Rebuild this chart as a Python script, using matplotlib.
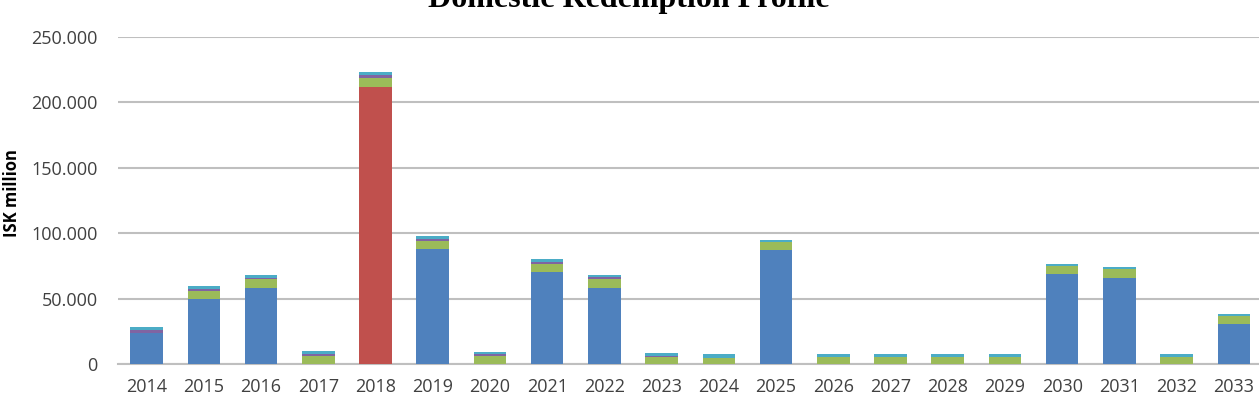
import numpy as np
import matplotlib.pyplot as plt
from matplotlib.ticker import FuncFormatter


# Data (ISK million)
years = [str(y) for y in range(2014, 2034)]
blue = [24000, 50000, 58000, 0, 0, 88000, 0, 70000, 58000, 0,
        0, 87000, 0, 0, 0, 0, 68500, 66000, 0, 30500]
red = [0, 0, 0, 0, 212000, 0, 0, 0, 0, 0,
       0, 0, 0, 0, 0, 0, 0, 0, 0, 0]
green = [0, 6000, 6700, 6000, 7000, 6000, 6000, 6600, 6700, 5000,
         4800, 6400, 5500, 5500, 5500, 5500, 6300, 6400, 5500, 6300]
purple = [2000, 1600, 1000, 1500, 1800, 1500, 1500, 1500, 1600, 1000,
          0, 0, 0, 0, 0, 0, 0, 0, 0, 0]
cyan = [2000, 2400, 2600, 2300, 2200, 2500, 2000, 2000, 1500, 2500,
        2700, 1500, 1900, 1900, 1900, 1900, 1800, 1800, 1900, 1600]

series = [blue, red, green, purple, cyan]
colors = ['#4F81BD', '#C0504D', '#9BBB59', '#8064A2', '#4BACC6']

fig = plt.figure(figsize=(12.59, 3.93), dpi=100)
ax = fig.add_axes([118/1259, 1-364/393, 1-118/1259, (364-37)/393])

x = np.arange(len(years))
bottom = np.zeros(len(years))
for vals, c in zip(series, colors):
    ax.bar(x, vals, 0.57, bottom=bottom, color=c, zorder=3)
    bottom += np.array(vals)

ax.set_xlim(-0.5, 19.44)
ax.set_ylim(0, 250000)
ax.set_yticks(np.arange(0, 250001, 50000))
ax.yaxis.set_major_formatter(FuncFormatter(lambda v, p: '0' if v == 0 else f'{int(v):,}'.replace(',', '.')))
ax.set_xticks(x)
ax.set_xticklabels(years)

ax.grid(axis='y', color='#BFBFBF', linewidth=1.5, zorder=0)
for s in ['top', 'right', 'left']:
    ax.spines[s].set_visible(False)
ax.spines['bottom'].set_color('#BFBFBF')
ax.spines['bottom'].set_linewidth(1.5)
ax.tick_params(axis='both', length=0, labelsize=13, labelcolor='#404040')
ax.tick_params(axis='y', pad=14.5)
ax.tick_params(axis='x', pad=10)
for lab in ax.get_xticklabels() + ax.get_yticklabels():
    lab.set_family('Open Sans')

fig.text(12/1259, 1-193/393, 'ISK million', rotation=90, ha='center', va='center',
         fontsize=12, fontweight='bold', family='Open Sans', color='#000000')
fig.text(629/1259, 1-7/393, 'Domestic Redemption Profile', ha='center', va='baseline',
         fontsize=23, fontweight='bold', family='Liberation Serif')

fig.savefig('out.png', dpi=100)
